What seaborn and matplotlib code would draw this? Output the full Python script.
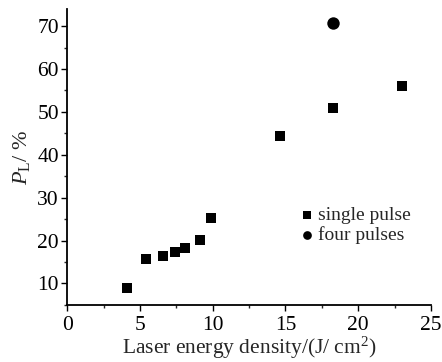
import numpy as np
import pandas as pd
import seaborn as sns
import matplotlib.pyplot as plt
from matplotlib.ticker import MultipleLocator

# single pulse
single_x = [4.1, 5.4, 6.6, 7.4, 8.1, 9.1, 9.9, 14.6, 18.3, 23.0]
single_y = [8.9, 15.7, 16.4, 17.3, 18.3, 20.2, 25.2, 44.3, 51.0, 56.0]
# four pulses
four_x = [18.3]
four_y = [70.8]

sns.set_style('ticks')
plt.rcParams['font.family'] = ['Liberation Serif', 'DejaVu Serif']
plt.rcParams['mathtext.fontset'] = 'custom'
plt.rcParams['mathtext.rm'] = 'Liberation Serif'
plt.rcParams['mathtext.it'] = 'Liberation Serif:italic'

fig = plt.figure(figsize=(4.42, 3.62), dpi=100)
ax = fig.add_axes([0.152, 0.158, 0.823, 0.817])

sns.scatterplot(x=single_x, y=single_y, marker='s', s=55, color='black',
                edgecolor='black', linewidth=0, label='single pulse', ax=ax)
sns.scatterplot(x=four_x, y=four_y, marker='o', s=80, color='black',
                edgecolor='black', linewidth=0, label='four pulses', ax=ax)

ax.set_xlim(0, 25)
ax.set_ylim(5, 74)
ax.xaxis.set_major_locator(MultipleLocator(5))
ax.xaxis.set_minor_locator(MultipleLocator(2.5))
ax.yaxis.set_major_locator(MultipleLocator(10))
ax.yaxis.set_minor_locator(MultipleLocator(5))
ax.tick_params(axis='both', which='major', direction='out', length=4, width=1,
               labelsize=15.5, colors='black')
ax.tick_params(axis='x', which='major', pad=4)
ax.tick_params(axis='y', which='major', pad=2)
ax.tick_params(axis='both', which='minor', direction='out', length=2, width=1)
for side in ['left', 'bottom']:
    ax.spines[side].set_linewidth(1.3)
    ax.spines[side].set_color('black')
sns.despine(ax=ax)

ax.set_xlabel('Laser energy density/(J/ cm$^2$)', fontsize=15.5, labelpad=0)
ax.set_ylabel('$P_\\mathrm{L}$/ %', fontsize=16, labelpad=4)

ax.legend(loc='lower right', bbox_to_anchor=(0.945, 0.205), frameon=False,
          fontsize=14, handletextpad=0.1, labelspacing=0.1, borderaxespad=0,
          borderpad=0, handlelength=0.9, markerscale=0.7)

fig.savefig('out.png', dpi=100)
